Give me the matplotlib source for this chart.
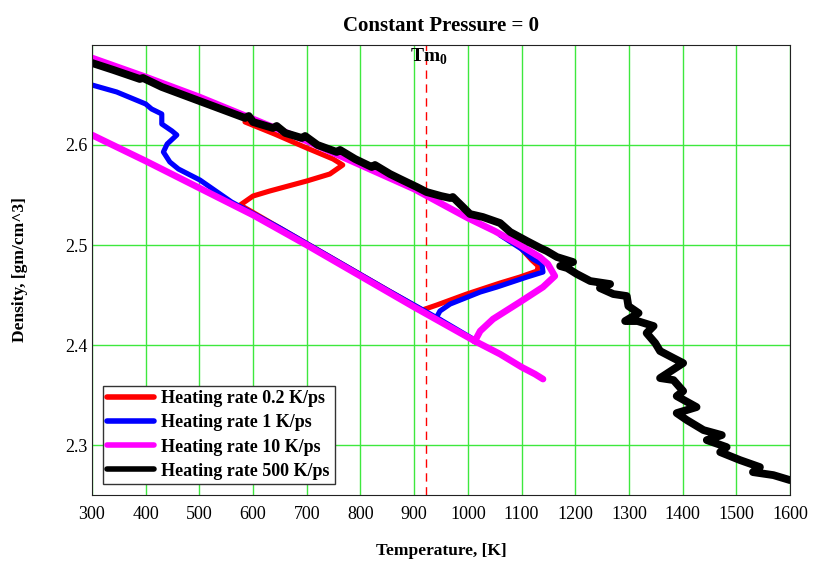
import numpy as np
import matplotlib.pyplot as plt

plt.rcParams['font.family'] = ['Liberation Serif', 'DejaVu Serif']
plt.rcParams['mathtext.fontset'] = 'custom'
plt.rcParams['mathtext.rm'] = 'Liberation Serif'
plt.rcParams['mathtext.bf'] = 'Liberation Serif:bold'

# Tm0 (melting temperature at zero pressure), K
Tm0 = 923

# Heating rate 0.2 K/ps
T_02 = [585, 640, 700, 749, 767, 743, 700, 631, 600, 576, 650, 750, 850, 915,
        942, 998, 1060, 1097, 1129, 1131, 1119, 1097, 1060]
rho_02 = [2.623, 2.611, 2.597, 2.586, 2.580, 2.571, 2.564, 2.554, 2.549, 2.540,
          2.517, 2.486, 2.455, 2.435, 2.440, 2.451, 2.462, 2.468, 2.474, 2.479,
          2.485, 2.498, 2.511]

# Heating rate 1 K/ps
T_1 = [300, 346, 400, 411, 430, 430, 449, 458, 440, 433, 445, 461, 501, 560,
       650, 750, 850, 950, 1010, np.nan,
       954, 942, 948, 967, 1023, 1054, 1110, 1140, 1138, 1121, 1100, 1060]
rho_1 = [2.660, 2.653, 2.641, 2.636, 2.631, 2.621, 2.614, 2.610, 2.601, 2.593,
         2.583, 2.576, 2.565, 2.543, 2.517, 2.486, 2.455, 2.425, 2.406, np.nan,
         2.422, 2.428, 2.434, 2.441, 2.453, 2.458, 2.468, 2.473, 2.481, 2.486,
         2.496, 2.510]

# Heating rate 10 K/ps
T_10 = [300, 400, 500, 600, 700, 800, 900, 1000, 1050, 1097, 1134, 1149, 1162,
        1140, 1097, 1047, 1023, 1013, 1060, 1100, 1125, 1140, np.nan,
        300, 400, 500, 600, 700, 800, 900, 1013]
rho_10 = [2.687, 2.668, 2.648, 2.626, 2.604, 2.580, 2.556, 2.527, 2.514, 2.500,
          2.488, 2.481, 2.469, 2.458, 2.443, 2.426, 2.414, 2.404, 2.391, 2.378,
          2.371, 2.366, np.nan,
          2.610, 2.584, 2.557, 2.530, 2.500, 2.469, 2.438, 2.404]

# Heating rate 500 K/ps
T_500 = [300, 340, 389, 395, 430, 480, 530, 585, 592, 600, 637, 644, 660, 691,
         697, 720, 756, 762, 790, 821, 827, 855, 874, 905, 923, 950, 967, 972,
         989, 1004, 1028, 1060, 1079, 1110, 1135, 1147, 1166, 1196, 1172, 1185,
         1203, 1228, 1265, 1246, 1271, 1296, 1299, 1318, 1293, 1316, 1346, 1333,
         1349, 1358, 1383, 1401, 1358, 1383, 1401, 1389, 1426, 1389, 1408, 1439,
         1473, 1445, 1482, 1470, 1507, 1544, 1531, 1569, 1600]
rho_500 = [2.682, 2.675, 2.666, 2.667, 2.658, 2.648, 2.638, 2.627, 2.629, 2.623,
           2.617, 2.619, 2.612, 2.607, 2.609, 2.600, 2.593, 2.595, 2.586, 2.578,
           2.580, 2.571, 2.566, 2.558, 2.553, 2.549, 2.547, 2.548, 2.539, 2.531,
           2.528, 2.522, 2.513, 2.504, 2.497, 2.494, 2.488, 2.483, 2.479, 2.477,
           2.471, 2.464, 2.461, 2.457, 2.451, 2.449, 2.439, 2.432, 2.424, 2.424,
           2.419, 2.412, 2.402, 2.394, 2.387, 2.382, 2.367, 2.365, 2.354, 2.349,
           2.338, 2.332, 2.325, 2.315, 2.310, 2.305, 2.298, 2.293, 2.285, 2.278,
           2.273, 2.270, 2.265]

series = [
    (T_02, rho_02, 'red', 3.7, 'Heating rate 0.2 K/ps'),
    (T_1, rho_1, 'blue', 3.7, 'Heating rate 1 K/ps'),
    (T_10, rho_10, 'magenta', 4.8, 'Heating rate 10 K/ps'),
    (T_500, rho_500, 'black', 5.6, 'Heating rate 500 K/ps'),
]

fig = plt.figure(figsize=(8.14, 5.62), dpi=100)
ax = fig.add_axes([0.113, 0.119, 0.8575, 0.801])

for T, rho, c, lw, lab in series:
    ax.plot(T, rho, color=c, lw=lw, label=lab,
            solid_capstyle='round', solid_joinstyle='round')

ax.axvline(Tm0, color='red', lw=1, ls=(0, (6, 4)), zorder=1)
ax.text(928, 2.688, 'Tm$_\\mathbf{0}$', ha='center', va='center',
        fontsize=14, fontweight='bold')

ax.set_xlim(300, 1600)
ax.set_ylim(2.25, 2.70)
ax.set_xticks(np.arange(300, 1601, 100))
ax.set_yticks([2.3, 2.4, 2.5, 2.6])
ax.grid(True, color='#3ee83e', lw=1)
ax.set_axisbelow(True)
ax.tick_params(length=0, labelsize=13)
ax.tick_params(axis='x', pad=8)
ax.tick_params(axis='y', pad=3)
for s in ax.spines.values():
    s.set_color('#222222')

ax.set_title('Constant Pressure = 0', fontsize=15, fontweight='bold', pad=10)
ax.set_xlabel('Temperature, [K]', fontsize=12.5, fontweight='bold', labelpad=14)
ax.set_ylabel('Density, [gm/cm^3]', fontsize=12.5, fontweight='bold', labelpad=27)

leg = ax.legend(loc='lower left', fancybox=False, edgecolor='#333333',
                framealpha=1, borderpad=0.25, handlelength=2.6, handletextpad=0.4,
                labelspacing=0.4, borderaxespad=0.6,
                prop={'weight': 'bold', 'size': 13})
for h in leg.legend_handles:
    h.set_linewidth(4)

fig.savefig('out.png', dpi=100)
